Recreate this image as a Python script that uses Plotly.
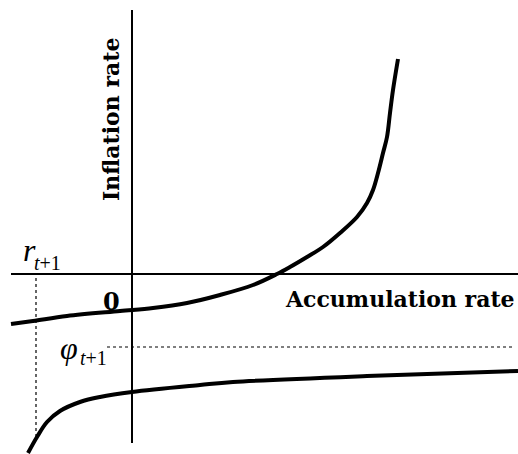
import plotly.graph_objects as go

# Coordinates are relative to the origin where the two axes cross.
# Upper branch: inflation rate rising with the accumulation rate
upper_x = [-121, -99, -65, -12, 21, 55, 88, 121, 145, 158, 175, 191, 208, 225, 235, 241, 246, 251, 255, 258, 261, 266]
upper_y = [-50, -47, -42, -37, -34, -29, -21, -11, 0, 7, 17, 27, 41, 57, 71, 84, 101, 121, 137, 161, 184, 215]

# Lower branch
lower_x = [-104, -95, -85, -72, -52, -32, 0, 68, 101, 235, 386]
lower_y = [-179, -163, -148, -137, -128, -123, -118, -111, -108, -102, -97]

# Reference levels
r_level_x = -96      # x position of the r_{t+1} guide
phi_level_y = -73    # y position of the phi_{t+1} guide

FONT = "Liberation Serif, Times New Roman, serif"
BOLD_FONT = "DejaVu Serif"

fig = go.Figure()

fig.add_trace(go.Scatter(x=upper_x, y=upper_y, mode="lines",
                         line=dict(color="black", width=4, shape="spline", smoothing=1.0),
                         hoverinfo="skip"))
fig.add_trace(go.Scatter(x=lower_x, y=lower_y, mode="lines",
                         line=dict(color="black", width=4, shape="spline", smoothing=1.0),
                         hoverinfo="skip"))

# Axes
fig.add_shape(type="line", x0=-121, x1=386, y0=0, y1=0, line=dict(color="black", width=2))
fig.add_shape(type="line", x0=0, x1=0, y0=264, y1=-169, line=dict(color="black", width=2))

# Dotted guides
fig.add_shape(type="line", x0=r_level_x, x1=r_level_x, y0=-4, y1=-163,
              line=dict(color="black", width=1.2, dash="dot"))
fig.add_shape(type="line", x0=-25, x1=381, y0=phi_level_y, y1=phi_level_y,
              line=dict(color="black", width=1.2, dash="dot"))

def label(text, x, y, size, family=FONT, **kw):
    fig.add_annotation(x=x, y=y, text=text, showarrow=False,
                       font=dict(family=family, size=size, color="black"),
                       xanchor="center", yanchor="middle", **kw)

label("<b>Inflation rate</b>", -21, 154, 22, family=BOLD_FONT, textangle=-90)
label("<b>Accumulation rate</b>", 268, -25, 22, family=BOLD_FONT)
label("<b>0</b>", -21, -27, 24, family=BOLD_FONT)
label("<i>r</i>", -103, 24, 32)
label("<i>t</i>+1", -85, 11, 20)
label("<i>φ</i>", -63, -74, 32)
label("<i>t</i>+1", -39, -84, 20)

fig.update_layout(
    width=518, height=454,
    margin=dict(l=0, r=0, t=0, b=0),
    paper_bgcolor="white", plot_bgcolor="white",
    showlegend=False,
    xaxis=dict(range=[-132, 386], visible=False, fixedrange=True),
    yaxis=dict(range=[-180, 274], visible=False, fixedrange=True),
)

fig.write_html("out.html")
